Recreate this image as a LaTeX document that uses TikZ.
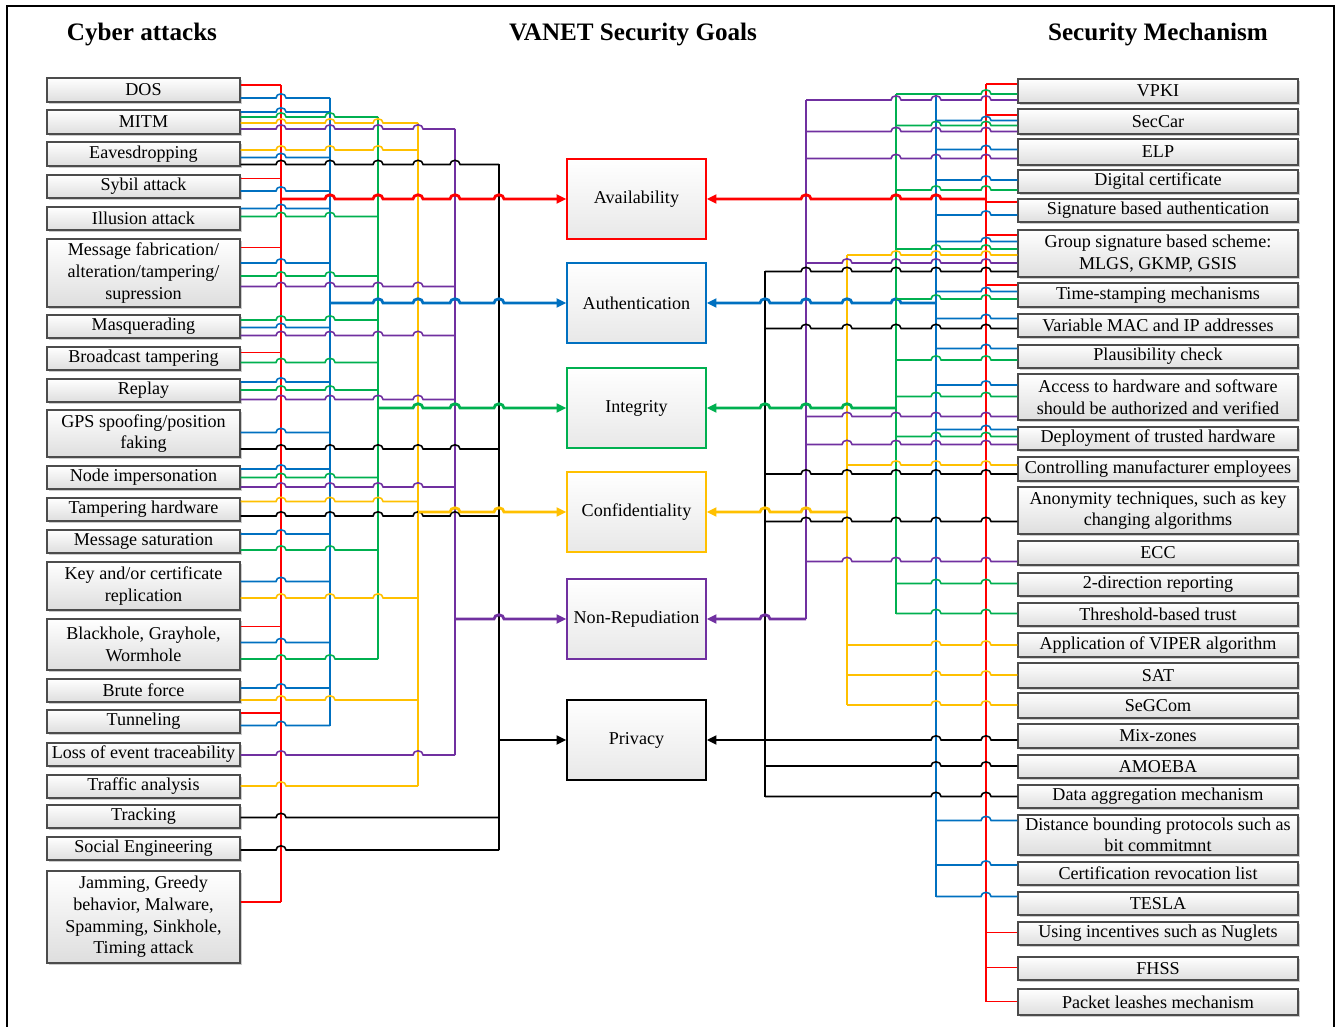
\documentclass[tikz,border=0pt]{standalone}
\usepackage{fontspec}
\setmainfont{Liberation Serif}
\usepackage{tikz}
\usetikzlibrary{arrows.meta, calc, shadows}
\definecolor{cRed}{RGB}{255,0,0}
\definecolor{cBlue}{RGB}{0,112,192}
\definecolor{cGreen}{RGB}{0,176,80}
\definecolor{cYellow}{RGB}{255,192,0}
\definecolor{cPurple}{RGB}{112,48,160}
\newdimen\pxu \pxu=0.02cm
\tikzset{
	atk/.style   ={rectangle, draw=black!70, line width=0.7pt, minimum width=193\pxu, inner sep=1pt, align=center, top color=white, bottom color=black!13, drop shadow={shadow xshift=1.4pt, shadow yshift=-1.4pt, fill=black, opacity=0.2}},
	mech/.style  ={atk, minimum width=280\pxu},
	goal/.style  ={rectangle, line width=0.8pt, minimum width=139\pxu, minimum height=80\pxu, align=center, top color=white, bottom color=black!9},
	ttl/.style   ={font=\fontsize{14.3}{17}\selectfont\bfseries},
	% connector styles
	branch/.style={line width=0.9pt},
	bus/.style   ={line width=1.25pt},
	mainL/.style ={line width=1.6pt, -{Triangle[length=5.5pt, width=5pt]}},
	mainR/.style ={line width=1.6pt, {Triangle[length=5.5pt, width=5pt]}-},
}
% vertical buses: name / colour / x / top / bottom
\def\busses{lR/cRed/281/85/902, lB/cBlue/330/98/725.5, lG/cGreen/378/117/659, lY/cYellow/418/123/786, lP/cPurple/455/129/755, lK/black/499/164.5/850,
	rK/black/765/271.5/796.5, rP/cPurple/806/100/619, rY/cYellow/847/255/705, rG/cGreen/896/94/613.5, rB/cBlue/936/97/896.5, rR/cRed/986/84/1001.5}
% horizontal wire with line hops over the buses it crosses
\newcommand\wire[4]{%
	\path let \p1=(#3), \p2=(#4) in \pgfextra{\xdef\wxa{\x1}\xdef\wxb{\x2}};%
	\pgfmathsetmacro\wxa{\wxa/\pxu}%
	\pgfmathsetmacro\wxb{\wxb/\pxu}%
	\gdef\whops{}%
	\foreach \bn/\bc/\bx/\bt/\bb in \busses {%
		\pgfmathtruncatemacro\hopok{(\bx>\wxa+1)*(\bx<\wxb-1)*(#2>\bt)*(#2<\bb)}%
		\ifnum\hopok=1
			\pgfmathsetmacro\hopx{\bx-5}%
			\xdef\whops{\whops -- (\hopx,#2) arc[start angle=180, end angle=0, x radius=2.85pt, y radius=2.4pt]}%
		\fi
	}%
	\draw[#1] (\wxa,#2) \whops -- (\wxb,#2);%
}

\begin{document}
\begin{tikzpicture}[x=0.02cm, y=-0.02cm, font=\fontsize{10.3}{12.3}\selectfont]
	\useasboundingbox (0,0) rectangle (1340,1027);
	\draw[line width=0.6pt] (7,1040) -- (7,6) -- (1334,6) -- (1334,1040);

	\node[ttl] (tAtk) at (142,34) {Cyber attacks};
	\node[ttl] (tGoal) at (633,34) {VANET Security Goals};
	\node[ttl] (tMech) at (1158,34) {Security Mechanism};

	% cyber attacks
	\node[atk, minimum height=24\pxu] (dos) at (143.5,90) {DOS};
	\node[atk, minimum height=24\pxu] (mitm) at (143.5,122) {MITM};
	\node[atk, minimum height=24\pxu] (eaves) at (143.5,154) {Eavesdropping};
	\node[atk, minimum height=23\pxu] (sybil) at (143.5,186.5) {Sybil attack};
	\node[atk, minimum height=23\pxu] (illus) at (143.5,218.5) {Illusion attack};
	\node[atk, minimum height=68\pxu] (msgfab) at (143.5,273) {Message fabrication/\\alteration/tampering/\\supression};
	\node[atk, minimum height=23\pxu] (masq) at (143.5,326.5) {Masquerading};
	\node[atk, minimum height=23\pxu] (bcast) at (143.5,358.5) {Broadcast tampering};
	\node[atk, minimum height=23\pxu] (replay) at (143.5,390.5) {Replay};
	\node[atk, minimum height=47\pxu] (gps) at (143.5,433.5) {GPS spoofing/position\\faking};
	\node[atk, minimum height=23\pxu] (nodeimp) at (143.5,477.5) {Node impersonation};
	\node[atk, minimum height=23\pxu] (tamphw) at (143.5,509.5) {Tampering hardware};
	\node[atk, minimum height=23\pxu] (msgsat) at (143.5,541.5) {Message saturation};
	\node[atk, minimum height=48\pxu] (keyrep) at (143.5,586) {Key and/or certificate\\replication};
	\node[atk, minimum height=51\pxu] (holes) at (143.5,644.5) {Blackhole, Grayhole,\\Wormhole};
	\node[atk, minimum height=23\pxu] (brute) at (143.5,690.5) {Brute force};
	\node[atk, minimum height=23\pxu] (tunnel) at (143.5,721.5) {Tunneling};
	\node[atk, minimum height=23\pxu] (losstr) at (143.5,754.5) {Loss of event traceability};
	\node[atk, minimum height=23\pxu] (traffic) at (143.5,786.5) {Traffic analysis};
	\node[atk, minimum height=23\pxu] (track) at (143.5,816.5) {Tracking};
	\node[atk, minimum height=23\pxu] (social) at (143.5,848.5) {Social Engineering};
	\node[atk, minimum height=92\pxu] (jam) at (143.5,917) {Jamming, Greedy\\behavior, Malware,\\Spamming, Sinkhole,\\Timing attack};

	% security goals
	\node[goal, draw=cRed] (avail) at (636.5,199) {Availability};
	\node[goal, draw=cBlue] (authn) at (636.5,303) {Authentication};
	\node[goal, draw=cGreen] (integ) at (636.5,408) {Integrity};
	\node[goal, draw=cYellow] (conf) at (636.5,512) {Confidentiality};
	\node[goal, draw=cPurple] (nonrep) at (636.5,619) {Non-Repudiation};
	\node[goal, draw=black] (priv) at (636.5,740) {Privacy};

	% security mechanisms
	\node[mech, minimum height=24\pxu] (vpki) at (1158,91) {VPKI};
	\node[mech, minimum height=25\pxu] (seccar) at (1158,121.5) {SecCar};
	\node[mech, minimum height=26\pxu] (elp) at (1158,152) {ELP};
	\node[mech, minimum height=23\pxu] (digcert) at (1158,181.5) {Digital certificate};
	\node[mech, minimum height=23\pxu] (sigauth) at (1158,210.5) {Signature based authentication};
	\node[mech, minimum height=47\pxu] (grpsig) at (1158,253.5) {Group signature based scheme:\\MLGS, GKMP, GSIS};
	\node[mech, minimum height=24\pxu] (tstamp) at (1158,295) {Time-stamping mechanisms};
	\node[mech, minimum height=23\pxu] (varmac) at (1158,325.5) {Variable MAC and IP addresses};
	\node[mech, minimum height=23\pxu] (plaus) at (1158,356.5) {Plausibility check};
	\node[mech, minimum height=46\pxu] (access) at (1158,397) {Access to hardware and software\\should be authorized and verified};
	\node[mech, minimum height=23\pxu] (trusthw) at (1158,438.5) {Deployment of trusted hardware};
	\node[mech, minimum height=24\pxu] (manuf) at (1158,469) {Controlling manufacturer employees};
	\node[mech, minimum height=47\pxu] (anon) at (1158,510.5) {Anonymity techniques, such as key\\changing algorithms};
	\node[mech, minimum height=24\pxu] (ecc) at (1158,553) {ECC};
	\node[mech, minimum height=23\pxu] (twodir) at (1158,584.5) {2-direction reporting};
	\node[mech, minimum height=23\pxu] (thresh) at (1158,614.5) {Threshold-based trust};
	\node[mech, minimum height=24\pxu] (viper) at (1158,645) {Application of VIPER algorithm};
	\node[mech, minimum height=25\pxu] (sat) at (1158,675.5) {SAT};
	\node[mech, minimum height=25\pxu] (segcom) at (1158,705.5) {SeGCom};
	\node[mech, minimum height=24\pxu] (mixz) at (1158,736) {Mix-zones};
	\node[mech, minimum height=23\pxu] (amoeba) at (1158,766.5) {AMOEBA};
	\node[mech, minimum height=23\pxu] (aggr) at (1158,796.5) {Data aggregation mechanism};
	\node[mech, minimum height=40\pxu] (distb) at (1158,835) {Distance bounding protocols such as\\bit commitmnt};
	\node[mech, minimum height=23\pxu] (crl) at (1158,873.5) {Certification revocation list};
	\node[mech, minimum height=23\pxu] (tesla) at (1158,903.5) {TESLA};
	\node[mech, minimum height=23\pxu] (nuglet) at (1158,933.5) {Using incentives such as Nuglets};
	\node[mech, minimum height=23\pxu] (fhss) at (1158,968.5) {FHSS};
	\node[mech, minimum height=26\pxu] (leash) at (1158,1002) {Packet leashes mechanism};

	% buses
	\foreach \bn/\bc/\bx/\bt/\bb in \busses {
		\coordinate (\bn) at (\bx,0);
		\draw[bus, \bc] (\bn |- 0,\bt) -- (\bn |- 0,\bb);
	}

	% attacks -> buses
	\wire{branch, cRed}{85}{dos.east}{lR}
	\wire{branch, cBlue}{98}{dos.east}{lB}
	\wire{branch, cBlue}{112}{mitm.east}{lB}
	\wire{branch, cGreen}{117}{mitm.east}{lG}
	\wire{branch, cYellow}{123}{mitm.east}{lY}
	\wire{branch, cPurple}{129}{mitm.east}{lP}
	\wire{branch, cYellow}{150}{eaves.east}{lY}
	\wire{branch, cBlue}{157.5}{eaves.east}{lB}
	\wire{branch, black}{164.5}{eaves.east}{lK}
	\wire{branch, cRed}{178.5}{sybil.east}{lR}
	\wire{branch, cBlue}{191}{sybil.east}{lB}
	\wire{branch, cBlue}{208.5}{illus.east}{lB}
	\wire{branch, cGreen}{216.5}{illus.east}{lG}
	\wire{branch, cRed}{247.5}{msgfab.east}{lR}
	\wire{branch, cBlue}{263}{msgfab.east}{lB}
	\wire{branch, cGreen}{276}{msgfab.east}{lG}
	\wire{branch, cPurple}{286.5}{msgfab.east}{lP}
	\wire{branch, cGreen}{320}{masq.east}{lG}
	\wire{branch, cBlue}{327.5}{masq.east}{lB}
	\wire{branch, cPurple}{335.5}{masq.east}{lP}
	\wire{branch, cRed}{352.5}{bcast.east}{lR}
	\wire{branch, cGreen}{362.5}{bcast.east}{lG}
	\wire{branch, cBlue}{382}{replay.east}{lB}
	\wire{branch, cGreen}{390}{replay.east}{lG}
	\wire{branch, cPurple}{399.5}{replay.east}{lP}
	\wire{branch, cBlue}{432.5}{gps.east}{lB}
	\wire{branch, black}{449}{gps.east}{lK}
	\wire{branch, cBlue}{469}{nodeimp.east}{lB}
	\wire{branch, cGreen}{477.5}{nodeimp.east}{lG}
	\wire{branch, cPurple}{487}{nodeimp.east}{lP}
	\wire{branch, cYellow}{501.5}{tamphw.east}{lY}
	\wire{branch, black}{516}{tamphw.east}{lK}
	\wire{branch, cBlue}{534}{msgsat.east}{lB}
	\wire{branch, cGreen}{550}{msgsat.east}{lG}
	\wire{branch, cBlue}{581.5}{keyrep.east}{lB}
	\wire{branch, cYellow}{598}{keyrep.east}{lY}
	\wire{branch, cRed}{626.5}{holes.east}{lR}
	\wire{branch, cBlue}{642.5}{holes.east}{lB}
	\wire{branch, cGreen}{659}{holes.east}{lG}
	\wire{branch, cBlue}{688}{brute.east}{lB}
	\wire{branch, cYellow}{700}{brute.east}{lY}
	\wire{branch, cRed}{713}{tunnel.east}{lR}
	\wire{branch, cBlue}{725.5}{tunnel.east}{lB}
	\wire{branch, cPurple}{755}{losstr.east}{lP}
	\wire{branch, cYellow}{786}{traffic.east}{lY}
	\wire{branch, black}{817.5}{track.east}{lK}
	\wire{branch, black}{850}{social.east}{lK}
	\wire{branch, cRed}{902}{jam.east}{lR}

	% buses -> goals
	\wire{mainL, cRed}{199}{lR}{avail.west}
	\wire{mainL, cBlue}{303}{lB}{authn.west}
	\wire{mainL, cGreen}{408}{lG}{integ.west}
	\wire{mainL, cYellow}{512}{lY}{conf.west}
	\wire{mainL, cPurple}{619}{lP}{nonrep.west}
	\wire{mainL, black}{740}{lK}{priv.west}
	\wire{mainR, cRed}{199}{avail.east}{rR}
	\wire{mainR, cBlue}{303}{authn.east}{rB}
	\wire{mainR, cGreen}{408}{integ.east}{rG}
	\wire{mainR, cYellow}{512}{conf.east}{rY}
	\wire{mainR, cPurple}{619}{nonrep.east}{rP}
	\wire{mainR, black}{740}{priv.east}{rK}

	% buses -> mechanisms
	\wire{branch, cRed}{84}{rR}{vpki.west}
	\wire{branch, cGreen}{94}{rG}{vpki.west}
	\wire{branch, cPurple}{100}{rP}{vpki.west}
	\wire{branch, cRed}{115}{rR}{seccar.west}
	\wire{branch, cBlue}{120.5}{rB}{seccar.west}
	\wire{branch, cGreen}{125.5}{rG}{seccar.west}
	\wire{branch, cPurple}{131.5}{rP}{seccar.west}
	\wire{branch, cBlue}{149.5}{rB}{elp.west}
	\wire{branch, cPurple}{158.5}{rP}{elp.west}
	\wire{branch, cBlue}{180}{rB}{digcert.west}
	\wire{branch, cGreen}{190}{rG}{digcert.west}
	\wire{branch, cRed}{202}{rR}{sigauth.west}
	\wire{branch, cBlue}{215}{rB}{sigauth.west}
	\wire{branch, cRed}{235}{rR}{grpsig.west}
	\wire{branch, cBlue}{241.5}{rB}{grpsig.west}
	\wire{branch, cGreen}{249}{rG}{grpsig.west}
	\wire{branch, cYellow}{255}{rY}{grpsig.west}
	\wire{branch, cPurple}{263}{rP}{grpsig.west}
	\wire{branch, black}{271.5}{rK}{grpsig.west}
	\wire{branch, cRed}{285}{rR}{tstamp.west}
	\wire{branch, cBlue}{291.5}{rB}{tstamp.west}
	\wire{branch, cGreen}{299}{rG}{tstamp.west}
	\wire{branch, cBlue}{318.5}{rB}{varmac.west}
	\wire{branch, black}{328.5}{rK}{varmac.west}
	\wire{branch, cBlue}{348.5}{rB}{plaus.west}
	\wire{branch, cGreen}{360}{rG}{plaus.west}
	\wire{branch, cBlue}{385}{rB}{access.west}
	\wire{branch, cGreen}{396.5}{rG}{access.west}
	\wire{branch, cPurple}{416.5}{rP}{access.west}
	\wire{branch, cBlue}{429.5}{rB}{trusthw.west}
	\wire{branch, cGreen}{436.5}{rG}{trusthw.west}
	\wire{branch, cPurple}{444.5}{rP}{trusthw.west}
	\wire{branch, cYellow}{465}{rY}{manuf.west}
	\wire{branch, black}{474}{rK}{manuf.west}
	\wire{branch, black}{521.5}{rK}{anon.west}
	\wire{branch, cPurple}{561.5}{rP}{ecc.west}
	\wire{branch, cGreen}{583.5}{rG}{twodir.west}
	\wire{branch, cGreen}{613.5}{rG}{thresh.west}
	\wire{branch, cYellow}{645}{rY}{viper.west}
	\wire{branch, cYellow}{675}{rY}{sat.west}
	\wire{branch, cYellow}{705}{rY}{segcom.west}
	\wire{branch, black}{740}{rK}{mixz.west}
	\wire{branch, black}{766}{rK}{amoeba.west}
	\wire{branch, black}{796.5}{rK}{aggr.west}
	\wire{branch, cBlue}{820.5}{rB}{distb.west}
	\wire{branch, cBlue}{865}{rB}{crl.west}
	\wire{branch, cBlue}{896.5}{rB}{tesla.west}
	\wire{branch, cRed}{932.5}{rR}{nuglet.west}
	\wire{branch, cRed}{967.5}{rR}{fhss.west}
	\wire{branch, cRed}{1001.5}{rR}{leash.west}
\end{tikzpicture}
\end{document}
